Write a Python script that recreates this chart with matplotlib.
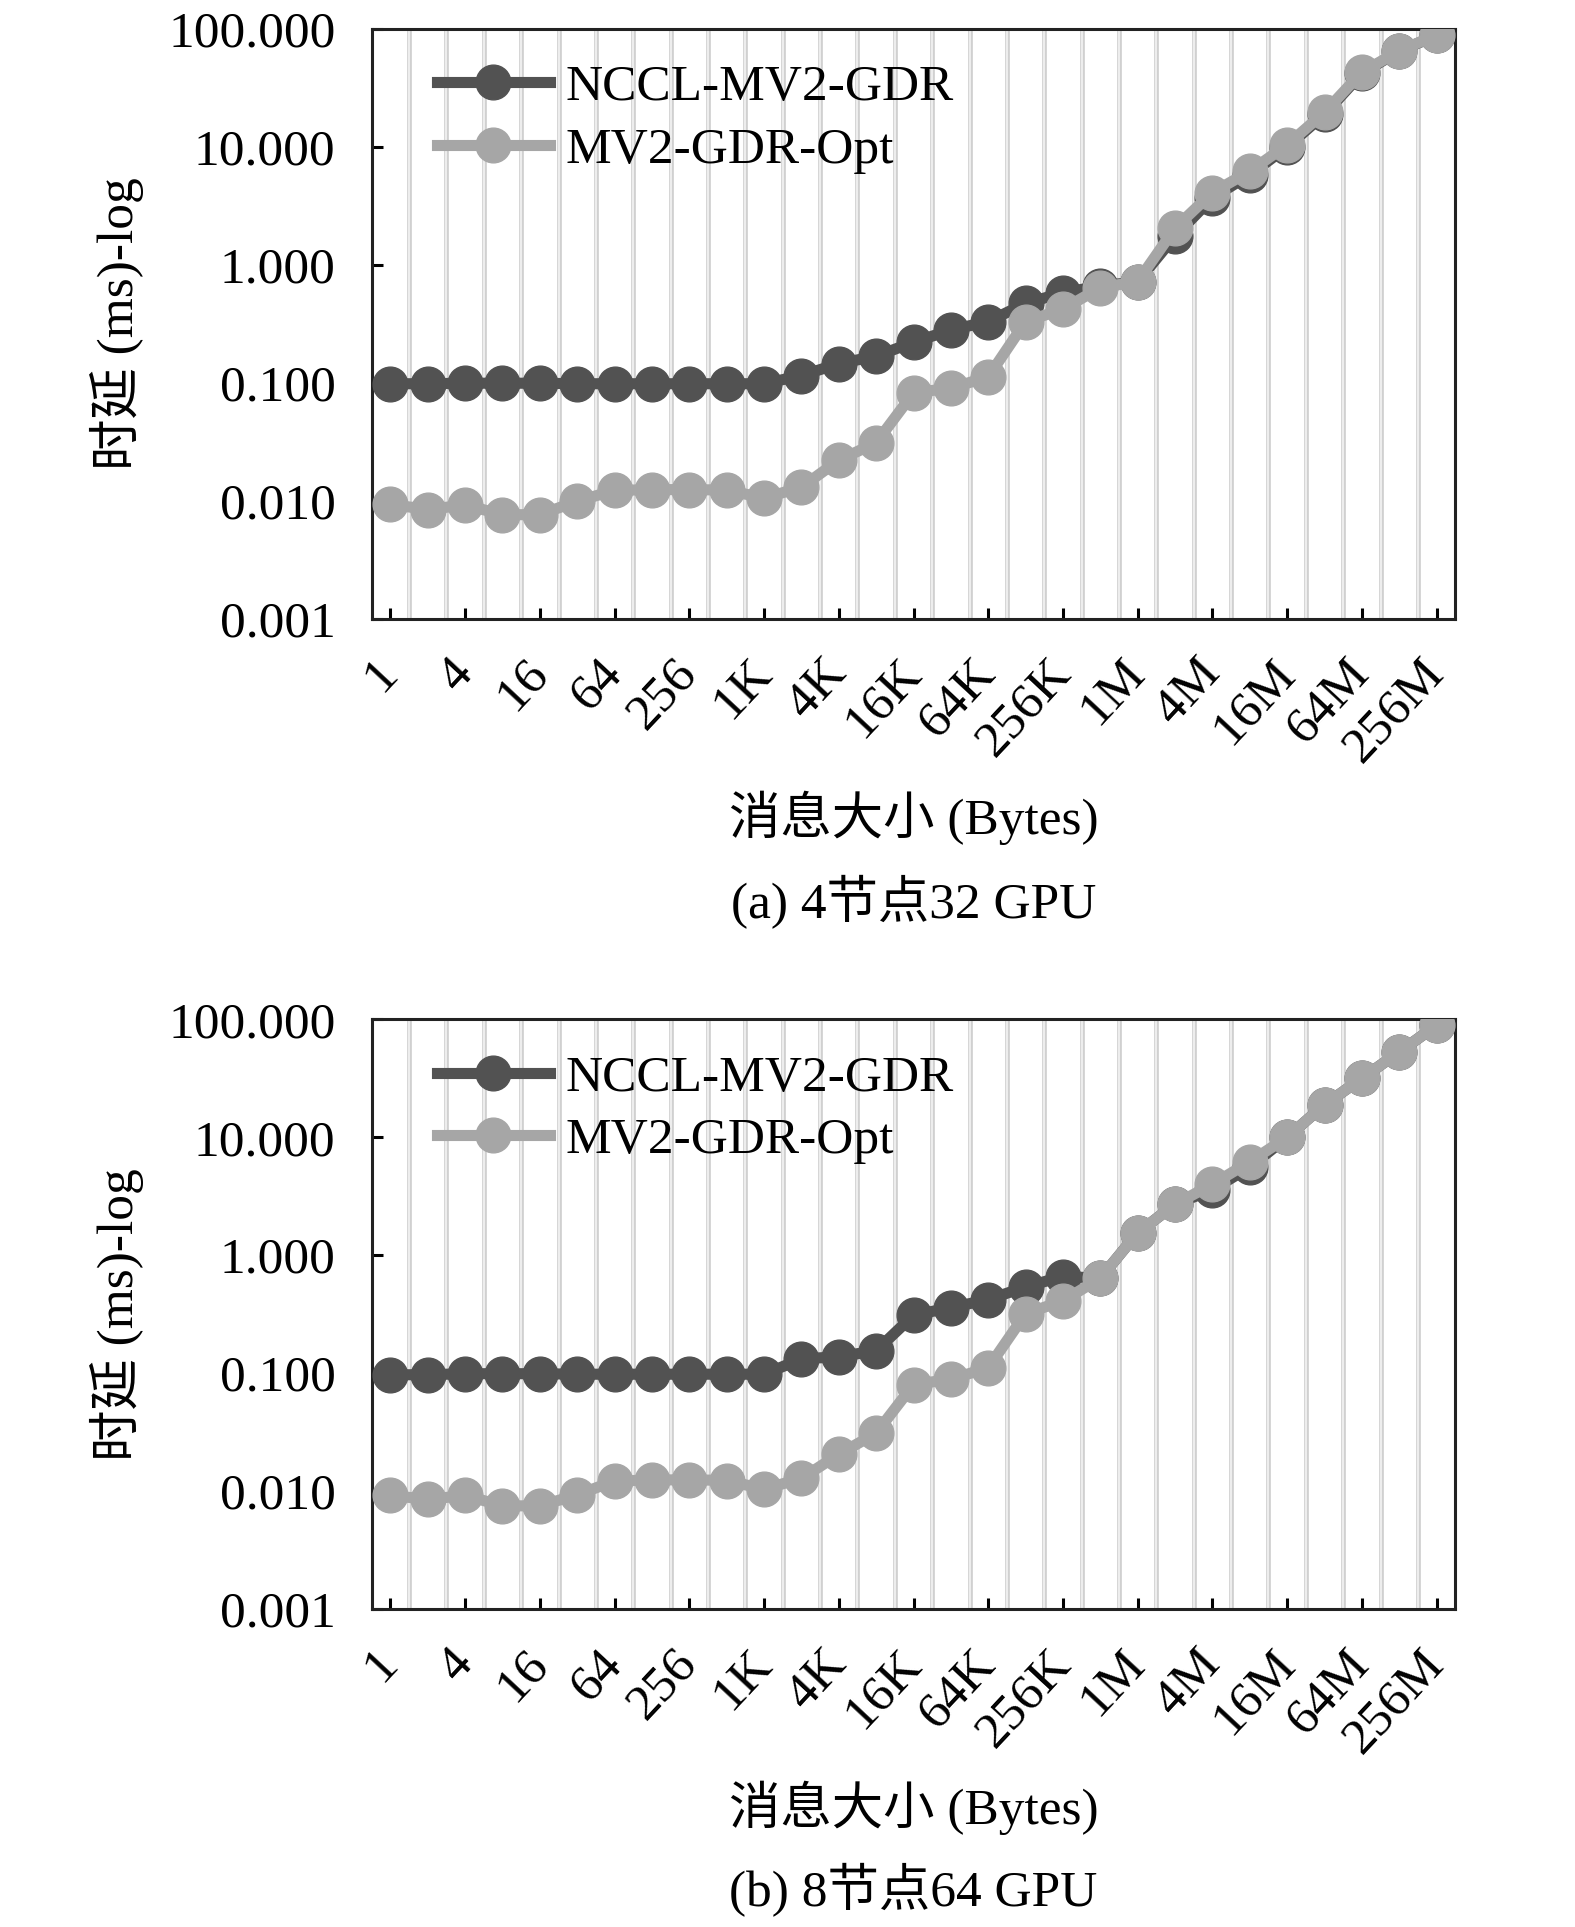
import matplotlib
matplotlib.use("Agg")
import matplotlib.pyplot as plt

plt.rcParams['font.family'] = ['Liberation Serif', 'Noto Sans CJK SC']
plt.rcParams['font.size'] = 37

sizes = ['1', '2', '4', '8', '16', '32', '64', '128', '256', '512',
         '1K', '2K', '4K', '8K', '16K', '32K', '64K', '128K', '256K', '512K',
         '1M', '2M', '4M', '8M', '16M', '32M', '64M', '128M', '256M']
tick_labels = sizes[::2]

# (a) 4 nodes, 32 GPU
nccl_a = [0.098, 0.098, 0.099, 0.099, 0.099, 0.098, 0.098, 0.098, 0.098, 0.098,
          0.098, 0.115, 0.145, 0.168, 0.22, 0.28, 0.33, 0.47, 0.58, 0.66,
          0.72, 1.75, 3.7, 5.8, 10.0, 18.9, 42.0, 65.0, 88.0]
opt_a = [0.0093, 0.0084, 0.0092, 0.0076, 0.0076, 0.0099, 0.0122, 0.0124, 0.0124, 0.0123,
         0.0105, 0.0130, 0.022, 0.031, 0.082, 0.090, 0.112, 0.33, 0.42, 0.64,
         0.72, 2.05, 4.1, 6.2, 10.4, 19.6, 43.0, 65.0, 89.0]

# (b) 8 nodes, 64 GPU
nccl_b = [0.097, 0.097, 0.099, 0.099, 0.099, 0.098, 0.098, 0.098, 0.098, 0.098,
          0.098, 0.132, 0.138, 0.155, 0.31, 0.36, 0.42, 0.54, 0.66, 0.64,
          1.55, 2.7, 3.6, 5.6, 10.0, 18.9, 31.6, 53.0, 89.0]
opt_b = [0.0092, 0.0085, 0.0092, 0.0075, 0.0075, 0.0093, 0.0122, 0.0124, 0.0125, 0.0123,
         0.0104, 0.0128, 0.0205, 0.031, 0.080, 0.089, 0.111, 0.32, 0.41, 0.64,
         1.55, 2.7, 4.0, 6.2, 10.0, 18.9, 31.6, 53.0, 89.0]

panels = [
    (nccl_a, opt_a, '(a) 4节点32 GPU'),
    (nccl_b, opt_b, '(b) 8节点64 GPU'),
]

dark = '#525252'
light = '#a6a6a6'

fig = plt.figure(figsize=(15.75, 19.27), dpi=100)
ax_rects = [[0.236, 0.679, 0.688, 0.306], [0.236, 0.165, 0.688, 0.306]]
xlabel_y = [0.5756, 0.0619]
caption_y = [0.532, 0.019]

x = list(range(len(sizes)))

for k, (nccl, opt, caption) in enumerate(panels):
    ax = fig.add_axes(ax_rects[k])
    # double light-grey separators between categories
    for g in range(len(sizes) - 1):
        ax.axvline(g + 0.5, color='#d0d0d0', lw=3.4, zorder=0)
        ax.axvline(g + 0.5, color='#f6f6f6', lw=1.1, zorder=0)

    ax.plot(x, nccl, color=dark, lw=8, marker='o', markersize=25,
            label='NCCL-MV2-GDR', zorder=3)
    ax.plot(x, opt, color=light, lw=8, marker='o', markersize=25,
            label='MV2-GDR-Opt', zorder=4)

    ax.set_yscale('log')
    ax.set_ylim(0.001, 100)
    ax.set_xlim(-0.5, len(sizes) - 0.5)
    ax.set_yticks([0.001, 0.01, 0.1, 1, 10, 100])
    ax.set_yticklabels(['0.001', '0.010', '0.100', '1.000', '10.000', '100.000'])
    ax.yaxis.set_minor_locator(matplotlib.ticker.NullLocator())
    ax.set_xticks(x[::2])
    ax.set_xticklabels(tick_labels, rotation=47, ha='right', va='center',
                       rotation_mode='anchor')
    ax.tick_params(axis='both', direction='in', width=2.2, length=8, labelsize=37)
    ax.tick_params(axis='x', pad=34)
    ax.tick_params(axis='y', pad=26)
    for s in ax.spines.values():
        s.set_linewidth(2.2)
        s.set_color('#222222')

    ax.legend(loc='upper left', bbox_to_anchor=(0.06, 0.94), frameon=False,
              handlelength=2.2, handletextpad=0.3, borderaxespad=0, borderpad=0,
              labelspacing=0.3, fontsize=37)

    pos = ax.get_position()
    fig.text(0.074, pos.y0 + pos.height / 2, '时延 (ms)-log', rotation=90,
             ha='center', va='center', fontsize=37)
    cx = pos.x0 + pos.width / 2
    fig.text(cx, xlabel_y[k], '消息大小 (Bytes)', ha='center', va='center', fontsize=37)
    fig.text(cx, caption_y[k], caption, ha='center', va='center', fontsize=37)

fig.savefig('out.png', dpi=100, facecolor='white')
